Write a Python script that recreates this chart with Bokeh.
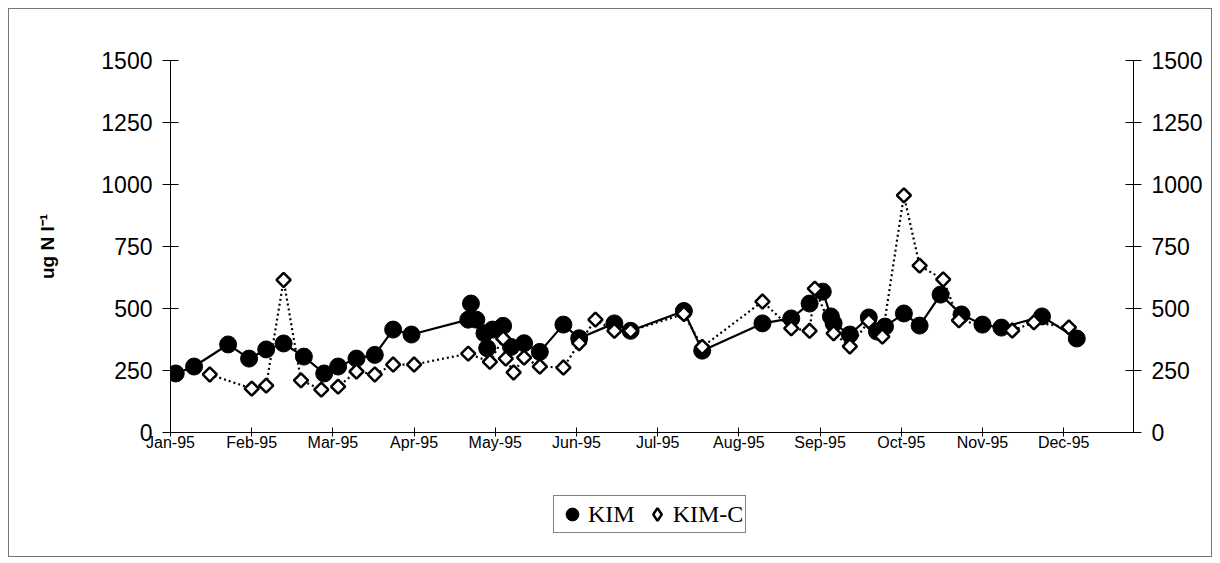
import calendar
import math
from bokeh.plotting import figure
from bokeh.layouts import column
from bokeh.models import (LinearAxis, FixedTicker, Range1d, Legend, LegendItem,
                          ColumnDataSource)
from bokeh.embed import file_html
from bokeh.resources import INLINE

# ---------------- data ----------------
month_labels = ["Jan-95", "Feb-95", "Mar-95", "Apr-95", "May-95", "Jun-95",
                "Jul-95", "Aug-95", "Sep-95", "Oct-95", "Nov-95", "Dec-95"]
y_ticks = [0, 250, 500, 750, 1000, 1250, 1500]
series_names = ["KIM", "KIM-C"]

kim_dates = ["01-03", "01-10", "01-23", "01-31", "02-06", "02-12", "02-19", "02-26",
             "03-03", "03-10", "03-17", "03-24", "03-31", "04-21", "04-22", "04-24",
             "04-27", "04-28", "04-30", "05-04", "05-07", "05-12", "05-18", "05-27",
             "06-02", "06-15", "06-21", "07-11", "07-18", "08-10", "08-21", "08-28",
             "09-02", "09-05", "09-06", "09-12", "09-19", "09-22", "09-25", "10-02",
             "10-08", "10-16", "10-24", "11-01", "11-08", "11-23", "12-06"]
kim_values = [238, 266, 355, 298, 335, 359, 306, 238,
              266, 298, 313, 415, 395, 455, 520, 455,
              400, 340, 415, 430, 345, 360, 325, 435,
              380, 440, 410, 490, 330, 440, 460, 520,
              568, 468, 440, 395, 464, 407, 427, 480,
              431, 556, 476, 435, 423, 468, 379]

kimc_dates = ["01-16", "02-01", "02-06", "02-12", "02-18", "02-25", "03-03", "03-10",
              "03-17", "03-24", "04-01", "04-21", "04-29", "05-04", "05-05", "05-08",
              "05-12", "05-18", "05-27", "06-02", "06-08", "06-15", "06-21", "07-11",
              "07-18", "08-10", "08-21", "08-28", "08-30", "09-06", "09-12", "09-19",
              "09-24", "10-02", "10-08", "10-17", "10-23", "11-12", "11-20", "12-03"]
kimc_values = [234, 177, 189, 615, 210, 173, 185, 246,
               234, 274, 274, 318, 285, 379, 298, 242,
               302, 266, 262, 360, 455, 410, 410, 478,
               345, 528, 420, 410, 580, 400, 347, 448,
               387, 956, 673, 617, 452, 411, 444, 424]


def month_pos(md):
    m, d = (int(s) for s in md.split("-"))
    dim = calendar.monthrange(1995, m)[1]
    return (m - 1) + (d - 1) / dim


kim_src = ColumnDataSource(dict(x=[month_pos(d) for d in kim_dates], y=kim_values))
kimc_src = ColumnDataSource(dict(x=[month_pos(d) for d in kimc_dates], y=kimc_values))

# ---------------- main figure ----------------
p = figure(width=1202, height=453, output_backend="svg", toolbar_location=None,
           x_range=Range1d(0, 11.86), y_range=Range1d(0, 1500),
           min_border_left=161, min_border_right=78, min_border_top=51,
           min_border_bottom=30)
p.outline_line_color = None
p.xgrid.visible = False
p.ygrid.visible = False
p.background_fill_color = "white"
p.border_fill_color = "white"

# x axis
xa = p.xaxis[0]
xa.ticker = FixedTicker(ticks=list(range(len(month_labels))))
xa.major_label_overrides = {i: lab for i, lab in enumerate(month_labels)}
xa.major_label_text_font = "Liberation Sans"
xa.major_label_text_font_size = "16px"
xa.major_label_text_color = "black"
xa.major_tick_in = 5
xa.major_tick_out = 4
xa.minor_tick_line_color = None
xa.axis_line_color = "black"
xa.major_tick_line_color = "black"
xa.major_label_standoff = -3

# left y axis
ya = p.yaxis[0]
ya.ticker = FixedTicker(ticks=y_ticks)
ya.major_label_text_font = "Liberation Sans"
ya.major_label_text_font_size = "23px"
ya.major_label_text_color = "black"
ya.major_tick_in = 8
ya.major_tick_out = 8
ya.minor_tick_line_color = None
ya.axis_line_color = "black"
ya.major_tick_line_color = "black"
ya.major_label_standoff = 10
ya.axis_label = "ug N l\u207b\u00b9"
ya.axis_label_text_font = "Liberation Sans"
ya.axis_label_text_font_style = "bold"
ya.axis_label_text_font_size = "19px"
ya.axis_label_text_color = "black"
ya.axis_label_standoff = 40

# right y axis
ra = LinearAxis(ticker=FixedTicker(ticks=y_ticks))
ra.major_label_text_font = "Liberation Sans"
ra.major_label_text_font_size = "23px"
ra.major_label_text_color = "black"
ra.major_tick_in = 8
ra.major_tick_out = 8
ra.minor_tick_line_color = None
ra.axis_line_color = "black"
ra.major_tick_line_color = "black"
ra.major_label_standoff = 10
p.add_layout(ra, "right")

# series
p.line("x", "y", source=kimc_src, line_color="black", line_width=2.2, line_dash="2 3")
p.line("x", "y", source=kim_src, line_color="black", line_width=2.2)
p.scatter("x", "y", source=kim_src, marker="circle", size=17,
          fill_color="black", line_color="black")
p.scatter("x", "y", source=kimc_src, marker="square", size=10,
          angle=math.pi / 4, fill_color="white", line_color="black", line_width=2.5)

# ---------------- legend strip ----------------
lg = figure(width=1202, height=94, output_backend="svg", toolbar_location=None,
            x_axis_type=None, y_axis_type=None, x_range=Range1d(0, 1),
            y_range=Range1d(0, 1), min_border=0, min_border_left=0,
            min_border_right=0, min_border_top=0, min_border_bottom=0)
lg.outline_line_color = None
lg.xgrid.visible = False
lg.ygrid.visible = False
lg.background_fill_color = "white"
lg.border_fill_color = "white"
# legend-only renderers: one sample point each, placed outside the visible range
l_kim = lg.scatter(x=[-5], y=[-5], marker="circle", size=17,
                   fill_color="black", line_color="black")
l_kimc = lg.scatter(x=[-5], y=[-5], marker="diamond", size=14,
                    fill_color="white", line_color="black", line_width=2.5)
legend = Legend(items=[LegendItem(label=series_names[0], renderers=[l_kim]),
                       LegendItem(label=series_names[1], renderers=[l_kimc])],
                orientation="horizontal", location=(383, 23),
                label_text_font="Liberation Serif", label_text_font_size="24px",
                label_text_color="black", border_line_color="black",
                border_line_width=1, padding=2, spacing=6, label_standoff=0,
                glyph_width=32, glyph_height=32, margin=0,
                background_fill_color="white")
lg.add_layout(legend, "center")

page = column(p, lg, spacing=0)
page.styles = {"border": "1px solid #777777", "margin-left": "8px",
               "margin-top": "8px"}

with open("out.html", "w") as f:
    f.write(file_html(page, INLINE))
